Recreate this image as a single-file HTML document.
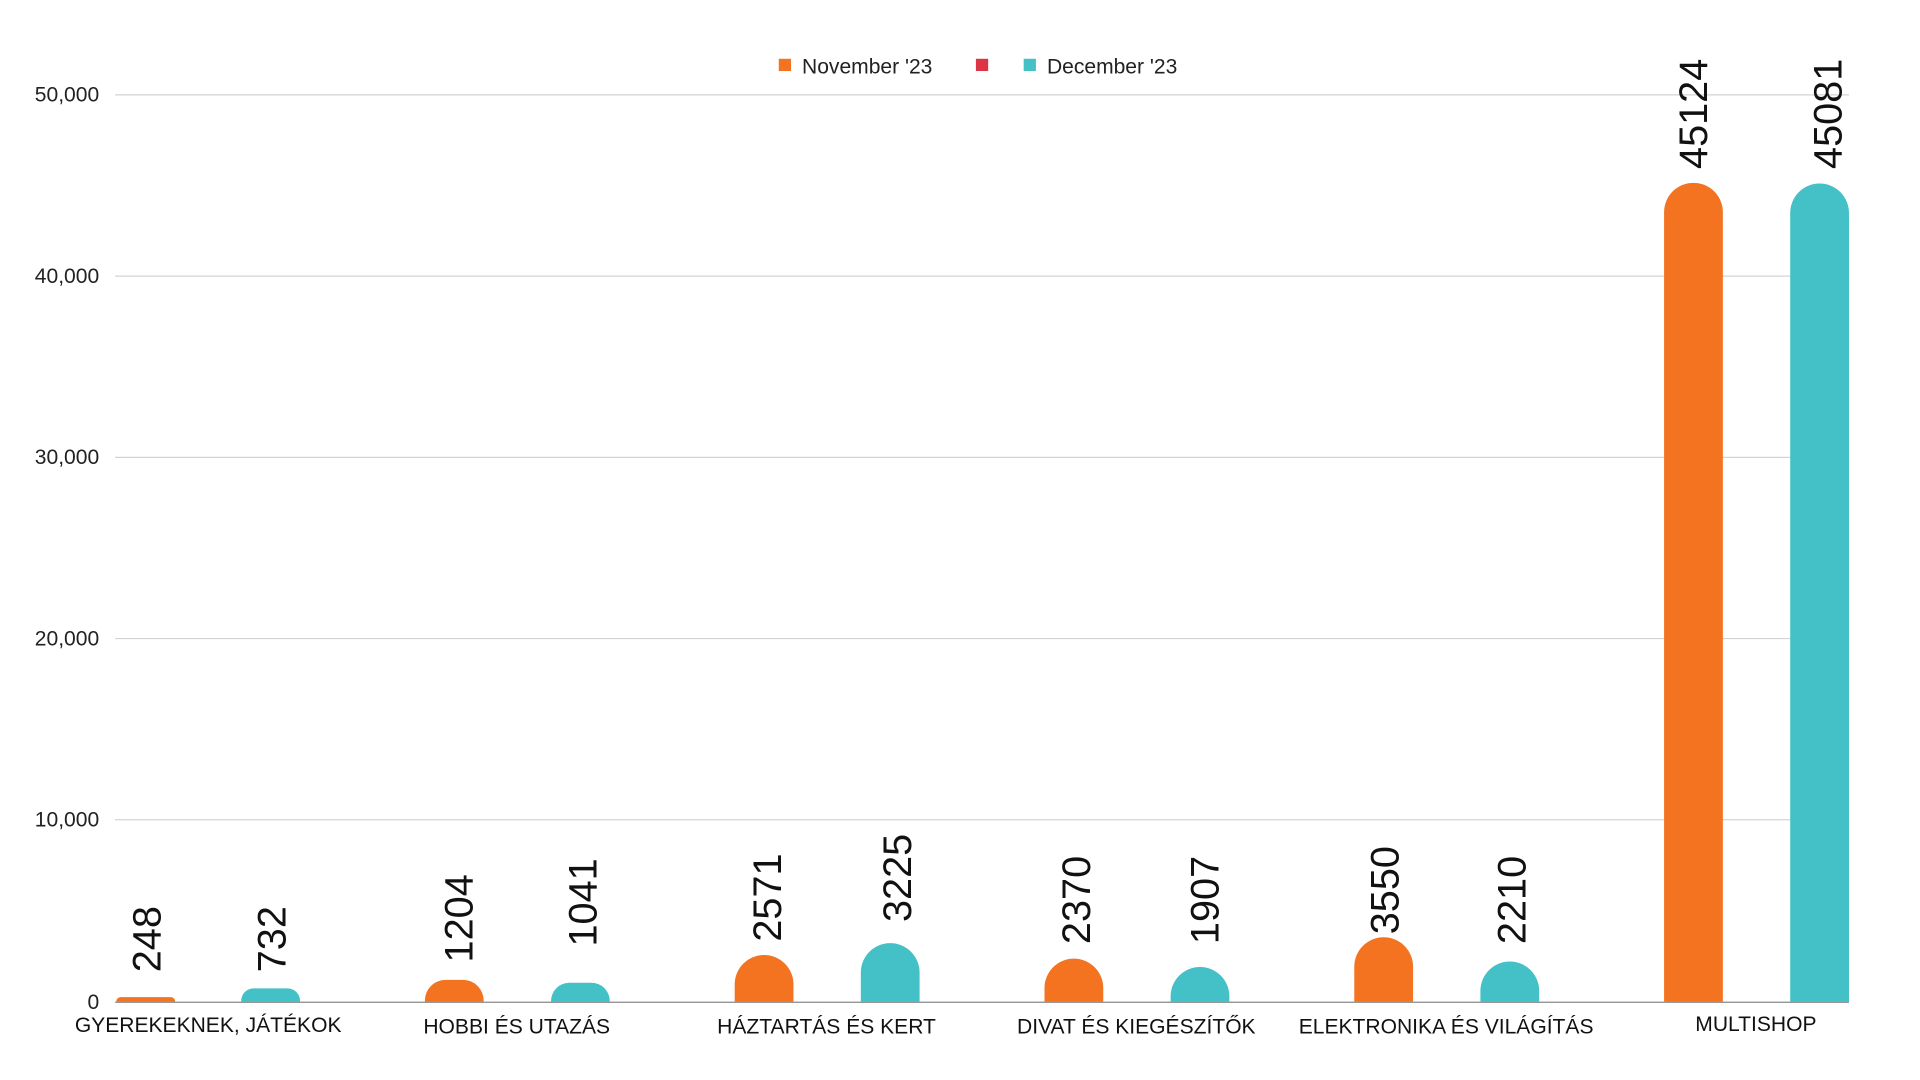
<!DOCTYPE html>
<html><head><meta charset="utf-8"><style>
html,body{margin:0;padding:0;background:#fff;}
svg{display:block;font-family:"Liberation Sans",sans-serif;}
</style></head><body>
<svg width="1920" height="1080" viewBox="0 0 1568 882" preserveAspectRatio="none" xmlns="http://www.w3.org/2000/svg">
<defs><clipPath id="c"><rect x="0" y="0" width="1568" height="818"/></clipPath></defs>
<g stroke="#d4d4d4" stroke-width="1">
<line x1="94" x2="1510" y1="77.5" y2="77.5"/>
<line x1="94" x2="1510" y1="225.5" y2="225.5"/>
<line x1="94" x2="1510" y1="373.5" y2="373.5"/>
<line x1="94" x2="1510" y1="521.5" y2="521.5"/>
<line x1="94" x2="1510" y1="669.5" y2="669.5"/>
</g>
<g font-size="17.2" fill="#222" text-anchor="end">
<text x="81" y="83">50,000</text>
<text x="81" y="231">40,000</text>
<text x="81" y="379">30,000</text>
<text x="81" y="527">20,000</text>
<text x="81" y="675">10,000</text>
<text x="81" y="824">0</text>
</g>
<g font-size="17.2" fill="#222">
<rect x="636" y="48" width="10" height="10" fill="#f37321"/>
<text x="655" y="60">November '23</text>
<rect x="797" y="48" width="10" height="10" fill="#dc3545"/>
<rect x="836" y="48" width="10" height="10" fill="#43c1c6"/>
<text x="855" y="60">December '23</text>
</g>
<g clip-path="url(#c)">
<rect x="95" y="814.3" width="48" height="10" rx="3.5" fill="#f37321"/>
<rect x="197" y="807.2" width="48" height="25" rx="10" fill="#43c1c6"/>
<rect x="347" y="800.2" width="48" height="40" rx="17" fill="#f37321"/>
<rect x="450" y="802.6" width="48" height="35" rx="15" fill="#43c1c6"/>
<rect x="600" y="779.9" width="48" height="70" rx="24" fill="#f37321"/>
<rect x="703" y="770.2" width="48" height="80" rx="24" fill="#43c1c6"/>
<rect x="853" y="782.9" width="48" height="70" rx="24" fill="#f37321"/>
<rect x="956" y="789.7" width="48" height="60" rx="24" fill="#43c1c6"/>
<rect x="1106" y="765.4" width="48" height="80" rx="24" fill="#f37321"/>
<rect x="1209" y="785.2" width="48" height="60" rx="24" fill="#43c1c6"/>
<rect x="1359" y="149.3" width="48" height="700" rx="24" fill="#f37321"/>
<rect x="1462" y="149.9" width="48" height="700" rx="24" fill="#43c1c6"/>
</g>
<line x1="94" x2="1510" y1="818.5" y2="818.5" stroke="#888" stroke-width="1"/>
<g font-size="32.4" fill="#111">
<text transform="translate(131,794) rotate(-90)">248</text>
<text transform="translate(233,794) rotate(-90)">732</text>
<text transform="translate(386,786) rotate(-90)">1204</text>
<text transform="translate(487,773) rotate(-90)">1041</text>
<text transform="translate(638,769) rotate(-90)">2571</text>
<text transform="translate(744,753) rotate(-90)">3225</text>
<text transform="translate(890,771) rotate(-90)">2370</text>
<text transform="translate(995,771) rotate(-90)">1907</text>
<text transform="translate(1142,763) rotate(-90)">3550</text>
<text transform="translate(1246,771) rotate(-90)">2210</text>
<text transform="translate(1394,138) rotate(-90)">45124</text>
<text transform="translate(1504,138) rotate(-90)">45081</text>
</g>
<g font-size="17.2" fill="#111" text-anchor="middle">
<text x="170" y="843">GYEREKEKNEK, JÁTÉKOK</text>
<text x="422" y="844">HOBBI ÉS UTAZÁS</text>
<text x="675" y="844">HÁZTARTÁS ÉS KERT</text>
<text x="928" y="844">DIVAT ÉS KIEGÉSZÍTŐK</text>
<text x="1181" y="844">ELEKTRONIKA ÉS VILÁGÍTÁS</text>
<text x="1434" y="842">MULTISHOP</text>
</g>
</svg>
</body></html>
